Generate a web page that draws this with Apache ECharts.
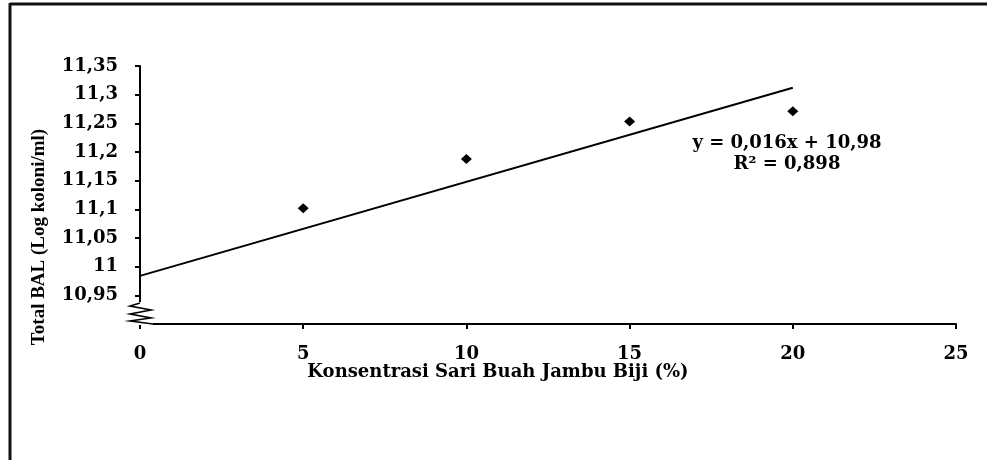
<!DOCTYPE html>
<html>
<head>
<meta charset="utf-8">
<script src="https://cdn.jsdelivr.net/npm/echarts@6/dist/echarts.min.js"></script>
<style>
  html, body { margin: 0; padding: 0; background: #fff; }
  #chart { width: 987px; height: 460px; }
</style>
</head>
<body>
<div id="chart"></div>
<script>
// Fruit-juice concentration (%) vs. lactic acid bacteria count (log colonies/ml)
const concentrations = [5, 10, 15, 20];
const totalBal = [11.102, 11.188, 11.253, 11.271];

// Axis ticks
const xTickValues = [0, 5, 10, 15, 20, 25];
const yTickValues = [10.95, 11, 11.05, 11.1, 11.15, 11.2, 11.25, 11.3, 11.35];
const yTickLabels = ['10,95', '11', '11,05', '11,1', '11,15', '11,2', '11,25', '11,3', '11,35'];

// Linear trend line: y = slope * x + intercept
const trendSlope = 0.0164;
const trendIntercept = 10.984;
const trendRange = [0, 20];
const equationLines = ['y = 0,016x + 10,98', 'R² = 0,898'];

const xTitle = 'Konsentrasi Sari Buah Jambu Biji (%)';
const yTitle = 'Total BAL (Log koloni/ml)';

const labelFont = { fontFamily: 'DejaVu Serif', fontWeight: 'bold', fontSize: 18, color: '#000' };

const chart = echarts.init(document.getElementById('chart'), null, { renderer: 'canvas' });

function yLabel(value) {
  const i = yTickValues.findIndex(t => Math.abs(t - value) < 1e-9);
  return i >= 0 ? yTickLabels[i] : '';
}

chart.setOption({
  animation: false,
  backgroundColor: '#fff',
  grid: { left: 140, right: 31, top: 66, bottom: 136, outerBoundsMode: 'none' },
  xAxis: {
    type: 'value',
    min: 0,
    max: 25,
    interval: 5,
    axisLine: { show: true, lineStyle: { color: '#000', width: 2 } },
    axisTick: { show: true, length: 5, lineStyle: { color: '#000', width: 2 }, customValues: xTickValues },
    axisLabel: Object.assign({ margin: 21, customValues: xTickValues }, labelFont),
    splitLine: { show: false }
  },
  yAxis: {
    type: 'value',
    min: 10.9,
    max: 11.35,
    interval: 0.05,
    axisLine: { show: true, lineStyle: { color: '#000', width: 2 } },
    axisTick: { show: true, length: 5, lineStyle: { color: '#000', width: 2 }, customValues: yTickValues },
    axisLabel: Object.assign({ margin: 22, customValues: yTickValues, formatter: yLabel }, labelFont),
    splitLine: { show: false }
  },
  series: [
    {
      type: 'scatter',
      data: concentrations.map((x, i) => [x, totalBal[i]]),
      symbol: 'diamond',
      symbolSize: [11, 10],
      itemStyle: { color: '#000', opacity: 1 },
      z: 3
    },
    {
      type: 'line',
      data: trendRange.map(x => [x, trendIntercept + trendSlope * x]),
      showSymbol: false,
      symbol: 'none',
      lineStyle: { color: '#000', width: 2 },
      silent: true,
      z: 2
    }
  ]
});

// Axis break symbol at the bottom of the y axis, placed from the axis scale
const origin = chart.convertToPixel({ gridIndex: 0 }, [0, 10.9]);
const ox = origin[0], oy = origin[1];
const zig = [[0, -21], [-10, -18], [11, -14], [-10, -10], [11, -6], [-10, -3], [13, 0]]
  .map(p => [ox + p[0], oy + p[1]]);

chart.setOption({
  graphic: {
    elements: [
      // frame
      { id: 'frameTop', type: 'line', shape: { x1: 10, y1: 4, x2: 987, y2: 4 }, style: { stroke: '#111', lineWidth: 3 } },
      { id: 'frameLeft', type: 'line', shape: { x1: 10, y1: 3, x2: 10, y2: 460 }, style: { stroke: '#111', lineWidth: 3 } },
      // axis titles
      {
        id: 'xTitle', type: 'text', x: 498, y: 372,
        style: { text: xTitle, fontFamily: 'DejaVu Serif', fontWeight: 'bold', fontSize: 18, fill: '#000', align: 'center', verticalAlign: 'middle' }
      },
      {
        id: 'yTitle', type: 'text', x: 39, y: 237, rotation: Math.PI / 2,
        style: { text: yTitle, fontFamily: 'Liberation Serif', fontWeight: 'bold', fontSize: 19, fill: '#000', align: 'center', verticalAlign: 'middle' }
      },
      // trend equation
      {
        id: 'eq1', type: 'text', x: 787, y: 143,
        style: { text: equationLines[0], fontFamily: 'DejaVu Serif', fontWeight: 'bold', fontSize: 18, fill: '#000', align: 'center', verticalAlign: 'middle' }
      },
      {
        id: 'eq2', type: 'text', x: 787, y: 164,
        style: { text: equationLines[1], fontFamily: 'DejaVu Serif', fontWeight: 'bold', fontSize: 18, fill: '#000', align: 'center', verticalAlign: 'middle' }
      },
      // break
      { id: 'breakMask', type: 'rect', z: 100, shape: { x: ox - 3, y: oy - 22, width: 16, height: 23 }, style: { fill: '#fff' } },
      { id: 'breakZig', type: 'polyline', z: 101, shape: { points: zig }, style: { stroke: '#000', lineWidth: 1.6, fill: null } }
    ]
  }
});
</script>
</body>
</html>
